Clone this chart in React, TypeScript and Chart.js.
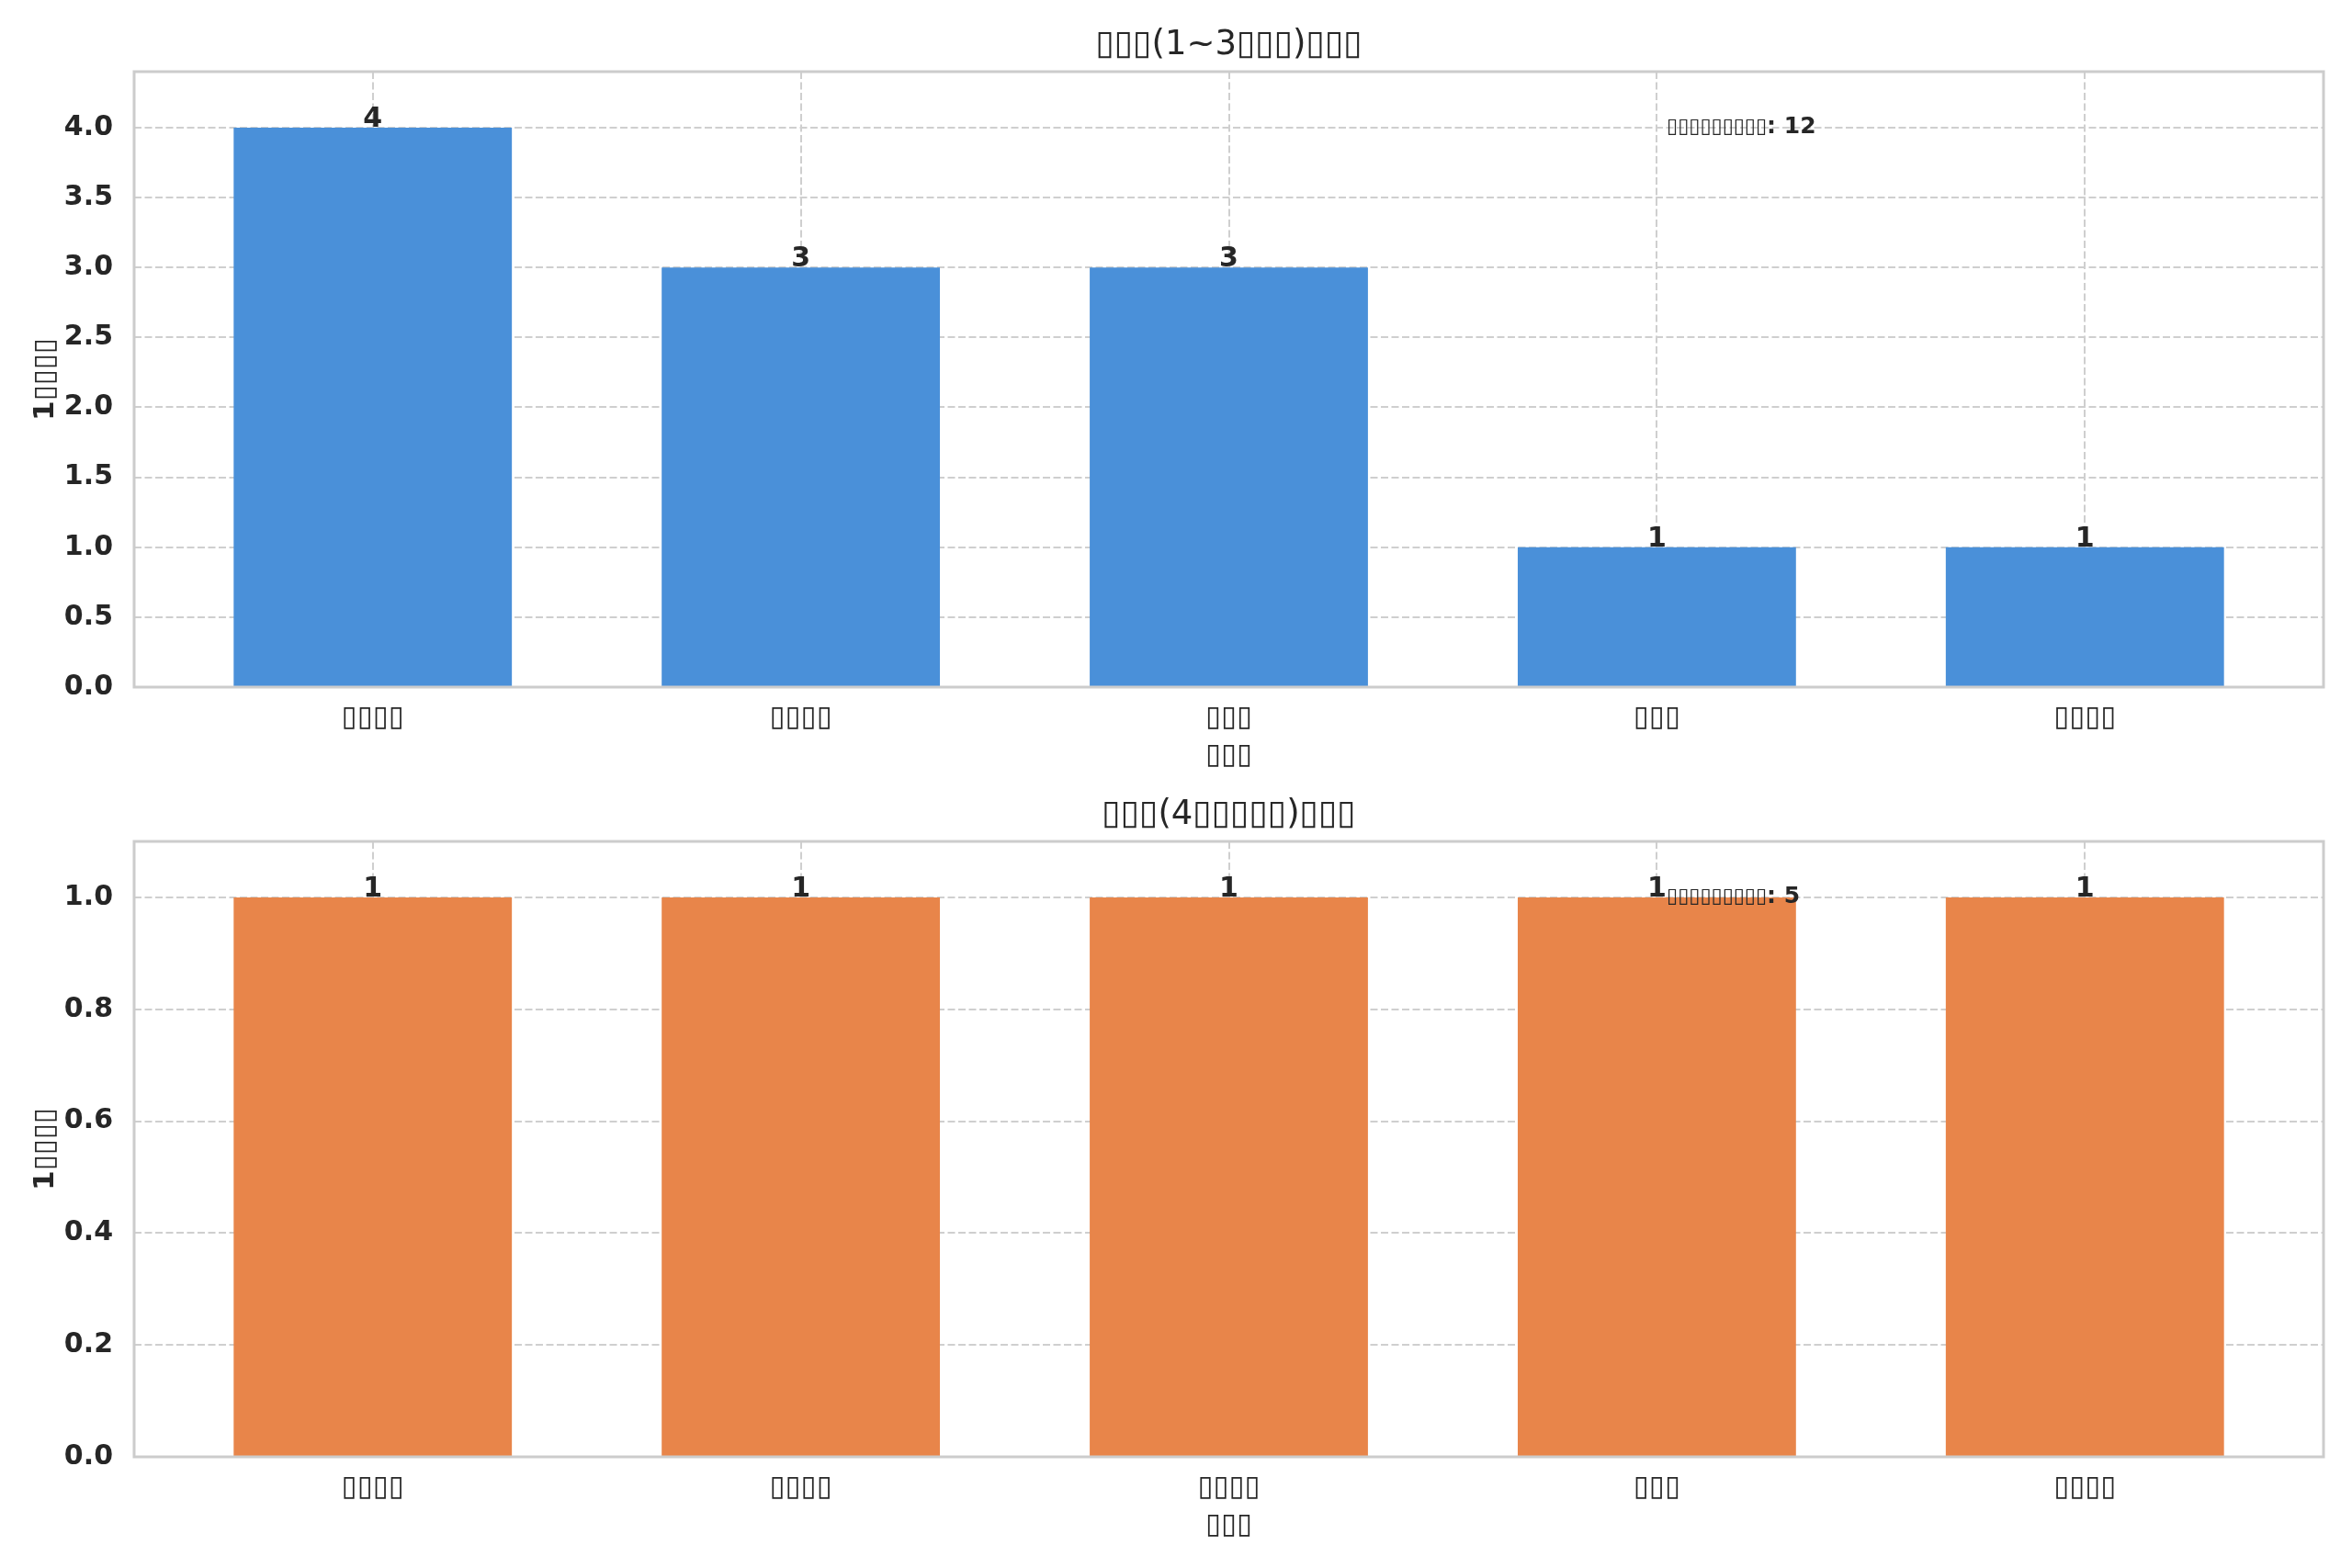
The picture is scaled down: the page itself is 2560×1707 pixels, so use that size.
import React, { useEffect, useRef, type JSX } from 'react';
import { Chart, ChartConfiguration, Plugin } from 'chart.js/auto';

// glyphs in the reference are missing-glyph boxes, kept as box characters
const topCategories = ['▯▯▯▯', '▯▯▯▯', '▯▯▯', '▯▯▯', '▯▯▯▯'];
const topCounts = [4, 3, 3, 1, 1];
const topYTicks = [0, 0.5, 1, 1.5, 2, 2.5, 3, 3.5, 4];

const bottomCategories = ['▯▯▯▯', '▯▯▯▯', '▯▯▯▯', '▯▯▯', '▯▯▯▯'];
const bottomCounts = [1, 1, 1, 1, 1];
const bottomYTicks = [0, 0.2, 0.4, 0.6, 0.8, 1.0];

const topTitle = '▯▯▯(1~3▯▯▯)▯▯▯';
const bottomTitle = '▯▯▯(4▯▯▯▯▯)▯▯▯';
const yLabel = '1▯▯▯▯';
const xLabel = '▯▯▯';
const totalLabel = '▯▯▯▯▯▯▯▯▯';

const FONT = "'DejaVu Sans', sans-serif";
const TEXT = '#262626';
const GRID = '#cfcfcf';

type PanelProps = {
    categories: string[];
    counts: number[];
    yTicks: number[];
    yMax: number;
    title: string;
    color: string;
    height: number;
    areaTop: number;
    titleY: number;
    xAxisHeight: number;
    xTitlePad: number;
};

const framePlugin: Plugin = {
    id: 'frame',
    afterDatasetsDraw(chart) {
        const { ctx, chartArea: a } = chart;
        ctx.save();
        ctx.strokeStyle = '#cccccc';
        ctx.lineWidth = 3;
        ctx.strokeRect(a.left, a.top, a.right - a.left, a.bottom - a.top);
        ctx.restore();
    },
};

const valueLabelPlugin: Plugin = {
    id: 'valueLabels',
    afterDatasetsDraw(chart) {
        const { ctx } = chart;
        const meta = chart.getDatasetMeta(0);
        const data = chart.data.datasets[0].data as { x: number; y: number }[];
        ctx.save();
        ctx.fillStyle = TEXT;
        ctx.font = `bold 30px ${FONT}`;
        ctx.textAlign = 'center';
        ctx.textBaseline = 'alphabetic';
        meta.data.forEach((bar, i) => {
            ctx.fillText(String(data[i].y), bar.x, bar.y - 1);
        });
        ctx.restore();
    },
};

const makeTextPlugin = (title: string, titleY: number, total: number): Plugin => ({
    id: 'panelText',
    afterDatasetsDraw(chart) {
        const { ctx, chartArea: a } = chart;
        ctx.save();
        ctx.fillStyle = TEXT;

        // title centred over the plot area
        ctx.textAlign = 'center';
        ctx.textBaseline = 'middle';
        ctx.font = `37px ${FONT}`;
        ctx.fillText(title, (a.left + a.right) / 2, titleY);

        // total note
        const x = a.left + 0.7 * (a.right - a.left);
        const y = a.top + 0.09 * (a.bottom - a.top);
        ctx.textAlign = 'left';
        ctx.font = `22px ${FONT}`;
        ctx.fillText(totalLabel, x, y);
        const w = ctx.measureText(totalLabel).width;
        ctx.font = `bold 25px ${FONT}`;
        ctx.fillText(`: ${total}`, x + w, y);
        ctx.restore();
    },
});

const BarPanel = (p: PanelProps): JSX.Element => {
    const canvasRef = useRef<HTMLCanvasElement | null>(null);

    useEffect(() => {
        if (!canvasRef.current) return;
        const total = p.counts.reduce((s, v) => s + v, 0);
        const dash = [8, 3.5];

        const config: ChartConfiguration<'bar', { x: number; y: number }[]> = {
            type: 'bar',
            data: {
                datasets: [
                    {
                        data: p.counts.map((v, i) => ({ x: i, y: v })),
                        backgroundColor: p.color,
                        borderWidth: 0,
                        barPercentage: 0.65,
                        categoryPercentage: 1,
                    },
                ],
            },
            options: {
                responsive: true,
                maintainAspectRatio: false,
                animation: false,
                layout: { padding: { left: 0, right: 31, top: p.areaTop, bottom: 0 } },
                plugins: {
                    legend: { display: false },
                    tooltip: { enabled: false },
                    title: { display: false },
                },
                scales: {
                    x: {
                        type: 'linear',
                        min: -0.5575,
                        max: 4.5575,
                        offset: false,
                        afterBuildTicks: (axis) => {
                            axis.ticks = p.categories.map((_, i) => ({ value: i }));
                        },
                        afterFit: (s) => {
                            s.height = p.xAxisHeight;
                        },
                        ticks: {
                            callback: (v) => p.categories[Number(v)] ?? '',
                            color: TEXT,
                            font: { family: FONT, size: 31, lineHeight: 1.2 },
                            padding: 15,
                            autoSkip: false,
                            maxRotation: 0,
                        },
                        grid: { color: GRID, lineWidth: 2, drawTicks: false, offset: false },
                        border: { display: false, dash },
                        title: {
                            display: true,
                            text: xLabel,
                            color: TEXT,
                            font: { family: FONT, size: 31, lineHeight: 1.2 },
                            padding: { top: 0, bottom: p.xTitlePad },
                        },
                    },
                    y: {
                        min: 0,
                        max: p.yMax,
                        afterBuildTicks: (axis) => {
                            axis.ticks = p.yTicks.map((v) => ({ value: v }));
                        },
                        afterFit: (s) => {
                            s.width = 146;
                        },
                        ticks: {
                            callback: (v) => Number(v).toFixed(1),
                            color: TEXT,
                            font: { family: FONT, size: 30, weight: 'bold' },
                            padding: 23,
                        },
                        grid: { color: GRID, lineWidth: 2, drawTicks: false },
                        border: { display: false, dash },
                        title: {
                            display: true,
                            text: yLabel,
                            color: TEXT,
                            font: { family: FONT, size: 31, weight: 'bold', lineHeight: 1.2 },
                            padding: { top: 31, bottom: 0 },
                        },
                    },
                },
            },
            plugins: [framePlugin, valueLabelPlugin, makeTextPlugin(p.title, p.titleY, total)],
        };

        const chart = new Chart(canvasRef.current, config);
        return () => {
            chart.destroy();
        };
    }, [p]);

    return (
        <div style={{ position: 'relative', width: 2560, height: p.height }}>
            <canvas ref={canvasRef}></canvas>
        </div>
    );
};

const topProps: PanelProps = {
    categories: topCategories,
    counts: topCounts,
    yTicks: topYTicks,
    yMax: 4.4,
    title: topTitle,
    color: '#4a90d9',
    height: 853,
    areaTop: 78,
    titleY: 49,
    xAxisHeight: 105,
    xTitlePad: 11,
};

const bottomProps: PanelProps = {
    categories: bottomCategories,
    counts: bottomCounts,
    yTicks: bottomYTicks,
    yMax: 1.1,
    title: bottomTitle,
    color: '#e8854a',
    height: 854,
    areaTop: 63,
    titleY: 34,
    xAxisHeight: 121,
    xTitlePad: 27,
};

const App = (): JSX.Element => (
    <div style={{ position: 'absolute', left: 0, top: 0, width: 2560, height: 1707, background: '#fff' }}>
        <BarPanel {...topProps} />
        <BarPanel {...bottomProps} />
    </div>
);

export default App;
